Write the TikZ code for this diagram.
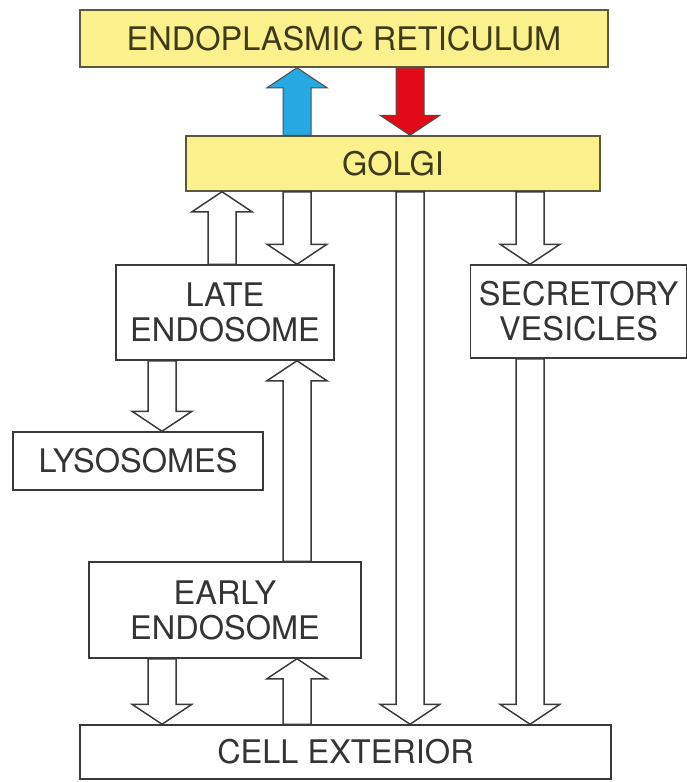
\documentclass[tikz,border=0pt]{standalone}
\usepackage{fontspec}
\setsansfont{TeX Gyre Heros}
\definecolor{ink}{RGB}{58,58,58}
\definecolor{ochre}{RGB}{62,58,26}
\definecolor{paleyellow}{RGB}{250,240,140}
\definecolor{upblue}{RGB}{40,168,226}
\definecolor{downred}{RGB}{226,10,24}
\usetikzlibrary{calc}
\newcommand{\headlen}{20pt}
\tikzset{
  box/.style={draw=ink, line width=1.5pt, fill=white, text=ink!90!black, inner sep=0pt,
              align=center, font=\sffamily\fontsize{32.5}{35}\selectfont},
  band/.style={box, fill=paleyellow, draw=ochre!85, text=ochre},
  pipe/.style={draw=ink, line width=1.5pt, fill=white, line join=miter,
              to path={let \p1=(\tikztostart), \p2=(\tikztotarget),
                \p3=($(\tikztotarget)!\headlen!(\tikztostart)$) in
                (\x1-14pt,\y1) -- (\x1-14pt,\y3) -- (\x1-30pt,\y3) -- (\x2,\y2)
                -- (\x1+30pt,\y3) -- (\x1+14pt,\y3) -- (\x1+14pt,\y1) -- cycle}},
  solid pipe/.style={pipe, draw=ink!90, line width=1pt},
}

\begin{document}
\begin{tikzpicture}[x=1pt,y=-1pt]
        \useasboundingbox (0,0) rectangle (687,782);
        \coordinate (c1) at (162,0);
        \coordinate (c2) at (222,0);
        \coordinate (c3) at (297,0);
        \coordinate (c4) at (410,0);
        \coordinate (c5) at (530,0);
        \node[band,minimum width=528pt,minimum height=57pt] (er) at (344,38.5) {ENDOPLASMIC RETICULUM};
        \node[band,minimum width=414pt,minimum height=55pt] (golgi) at (393,163.5) {GOLGI};
        \node[box,minimum width=218pt,minimum height=95pt] (late) at (225,312.5) {LATE\\ENDOSOME};
        \node[box,minimum width=216pt,minimum height=93pt] (secr) at (578.5,311.5) {SECRETORY\\VESICLES};
        \node[box,minimum width=250pt,minimum height=58pt] (lyso) at (138,461) {LYSOSOMES};
        \node[box,minimum width=272pt,minimum height=96pt] (early) at (225,610) {EARLY\\ENDOSOME};
        \node[box,minimum width=531pt,minimum height=54pt] (cell) at (345.5,752) {CELL EXTERIOR};
        \draw[solid pipe,fill=upblue] (golgi.north -| c3) to (er.south -| c3);
        \draw[solid pipe,fill=downred] (er.south -| c4) to (golgi.north -| c4);
        \draw[pipe] (late.north -| c2) to (golgi.south -| c2);
        \draw[pipe] (golgi.south -| c3) to (late.north -| c3);
        \draw[pipe] (golgi.south -| c4) to (cell.north -| c4);
        \draw[pipe] (golgi.south -| c5) to (secr.north -| c5);
        \draw[pipe] (late.south -| c1) to (lyso.north -| c1);
        \draw[pipe] (early.north -| c3) to (late.south -| c3);
        \draw[pipe] (early.south -| c1) to (cell.north -| c1);
        \draw[pipe] (cell.north -| c3) to (early.south -| c3);
        \draw[pipe] (secr.south -| c5) to (cell.north -| c5);
      \end{tikzpicture}
\end{document}
